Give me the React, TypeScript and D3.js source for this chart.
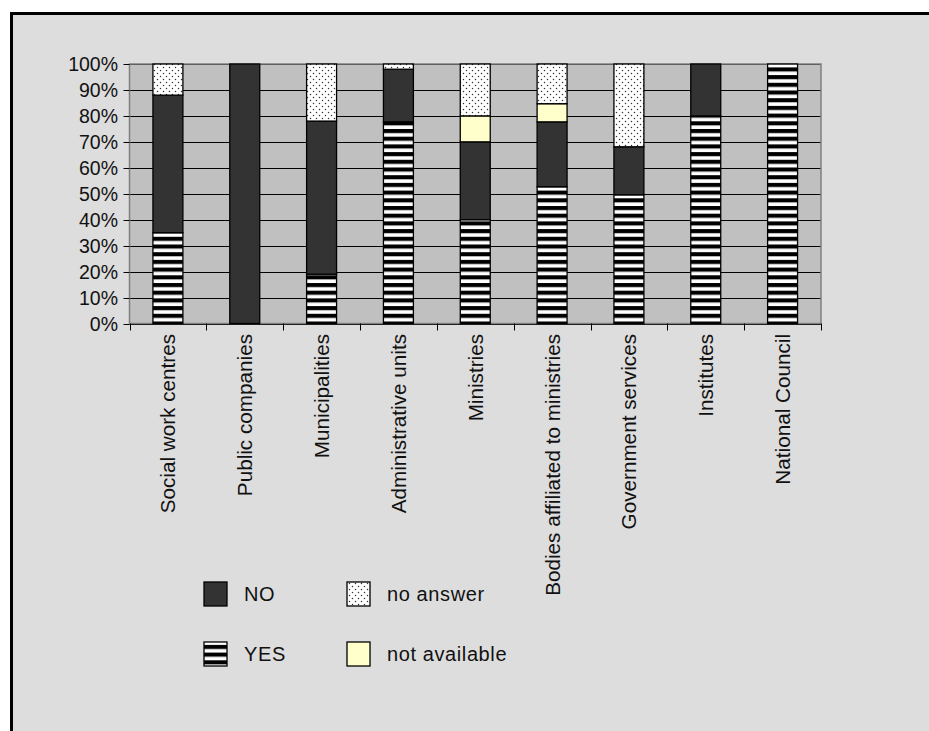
import React from "react";
import * as d3 from "d3";

const categories = [
  "Social work centres",
  "Public companies",
  "Municipalities",
  "Administrative units",
  "Ministries",
  "Bodies affiliated to ministries",
  "Government services",
  "Institutes",
  "National Council",
];
const yesValues = [35, 0, 19, 77.7, 40, 52.7, 49.6, 80, 100];
const noValues = [53, 100, 59, 20.3, 30, 25, 18.5, 20, 0];
const notAvailableValues = [0, 0, 0, 0, 10, 7, 0, 0, 0];
const noAnswerValues = [12, 0, 22, 2, 20, 15.3, 31.9, 0, 0];
const seriesKeys = ["YES", "NO", "not available", "no answer"];
const yTicks = [0, 10, 20, 30, 40, 50, 60, 70, 80, 90, 100];

const W = 929;
const H = 731;
const plot = { left: 129.5, top: 64, right: 821, bottom: 323.5 };
const FONT = "'Liberation Sans', Arial, Helvetica, sans-serif";

const fills: Record<string, string> = {
  YES: "url(#stripes)",
  NO: "#333333",
  "not available": "#ffffcc",
  "no answer": "url(#dots)",
};

export default function App() {
  const rows = categories.map((c, i) => ({
    cat: c,
    YES: yesValues[i],
    NO: noValues[i],
    "not available": notAvailableValues[i],
    "no answer": noAnswerValues[i],
  }));
  const stacked = d3.stack<any>().keys(seriesKeys)(rows);
  const x = d3.scaleBand().domain(categories).range([plot.left, plot.right]).padding(0);
  const y = d3.scaleLinear().domain([0, 100]).range([plot.bottom, plot.top]);
  const step = x.step();
  const barW = step * 0.39;

  const legend = [
    { key: "NO", col: 0, row: 0 },
    { key: "no answer", col: 1, row: 0 },
    { key: "YES", col: 0, row: 1 },
    { key: "not available", col: 1, row: 1 },
  ];

  return (
    <svg
      width={W}
      height={H}
      style={{ position: "absolute", left: 0, top: 0, background: "#ffffff" }}
      fontFamily={FONT}
    >
      <defs>
        <pattern id="stripes" patternUnits="userSpaceOnUse" width="10" height="7.7">
          <rect x="0" y="0" width="10" height="7.7" fill="#000" />
          <rect x="0" y="2.2" width="10" height="3.6" fill="#fff" />
        </pattern>
        <pattern id="dots" patternUnits="userSpaceOnUse" width="6" height="6">
          <rect x="0" y="0" width="6" height="6" fill="#fff" />
          <circle cx="1.5" cy="1.5" r="0.75" fill="#333" />
          <circle cx="4.5" cy="4.5" r="0.75" fill="#333" />
        </pattern>
      </defs>
      <rect x={11.5} y={13.5} width={W + 20} height={H + 20} fill="#dddddd" stroke="#000" strokeWidth={3} />
      <rect
        x={plot.left}
        y={plot.top}
        width={plot.right - plot.left}
        height={plot.bottom - plot.top}
        fill="#c0c0c0"
      />
      {yTicks.map((t) => (
        <line
          key={"g" + t}
          x1={plot.left}
          x2={plot.right}
          y1={Math.round(y(t)) + 0.5}
          y2={Math.round(y(t)) + 0.5}
          stroke="#000"
          strokeWidth={1}
        />
      ))}
      <rect
        x={plot.left}
        y={plot.top}
        width={plot.right - plot.left}
        height={plot.bottom - plot.top}
        fill="none"
        stroke="#808080"
        strokeWidth={1.5}
      />
      {stacked.map((s) =>
        s.map((d, i) => {
          const h = y(d[0]) - y(d[1]);
          if (h <= 0.01) return null;
          const cx = (x(categories[i]) as number) + step / 2;
          return (
            <rect
              key={s.key + i}
              x={cx - barW / 2}
              y={y(d[1])}
              width={barW}
              height={h}
              fill={fills[s.key]}
              stroke="#000"
              strokeWidth={1.3}
            />
          );
        })
      )}
      {/* y axis */}
      {yTicks.map((t) => (
        <g key={"yt" + t}>
          <line x1={plot.left - 6} x2={plot.left} y1={Math.round(y(t)) + 0.5} y2={Math.round(y(t)) + 0.5} stroke="#000" />
          <text x={118} y={y(t)} dy="0.36em" textAnchor="end" fontSize={19.5} fill="#111">
            {t + "%"}
          </text>
        </g>
      ))}
      {/* x axis ticks */}
      {d3.range(categories.length + 1).map((i) => {
        const xx = Math.round(plot.left + i * step) + 0.5;
        return <line key={"xt" + i} x1={xx} x2={xx} y1={plot.bottom} y2={plot.bottom + 7} stroke="#000" />;
      })}
      {categories.map((c) => {
        const cx = (x(c) as number) + step / 2;
        return (
          <text
            key={"xl" + c}
            transform={`translate(${cx + 7.5},334) rotate(-90)`}
            textAnchor="end"
            fontSize={20.7}
            fill="#111"
          >
            {c}
          </text>
        );
      })}
      {/* legend */}
      {legend.map((l) => {
        const bx = l.col === 0 ? 204 : 347;
        const by = l.row === 0 ? 582 : 642;
        return (
          <g key={"lg" + l.key}>
            <rect x={bx} y={by} width={23} height={24} fill={fills[l.key]} stroke="#000" strokeWidth={1.3} />
            <text x={bx + 40} y={by + 12} dy="0.36em" fontSize={20} letterSpacing={0.6} fill="#111">
              {l.key}
            </text>
          </g>
        );
      })}
    </svg>
  );
}
